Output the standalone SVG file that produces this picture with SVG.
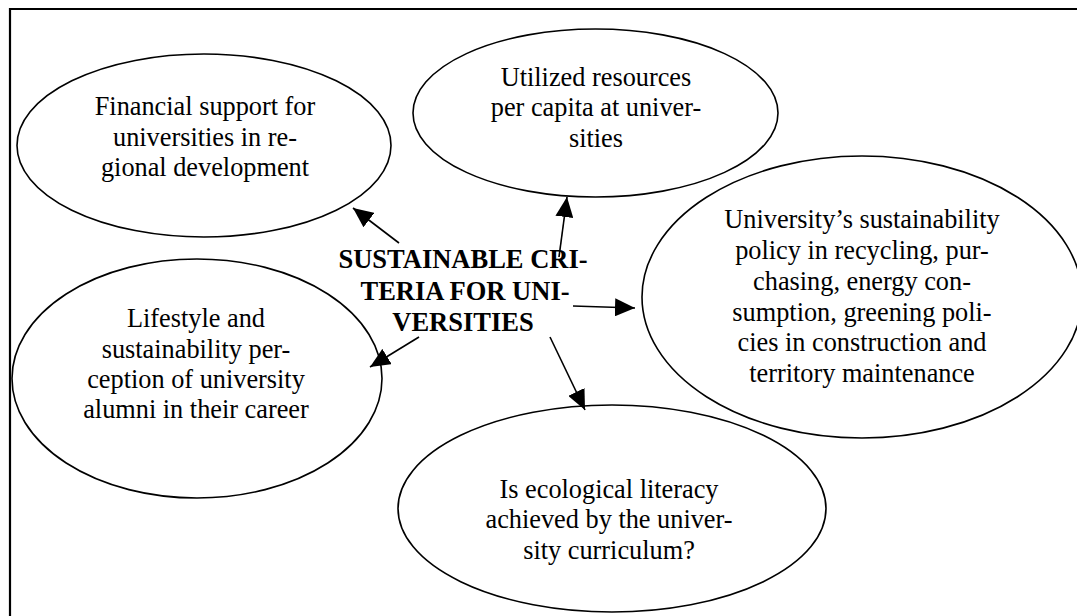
<svg xmlns="http://www.w3.org/2000/svg" width="1077" height="616" viewBox="0 0 1077 616">
<style>
.node ellipse{fill:#fff;stroke:#000;stroke-width:1.6}
.node text{font-family:"Liberation Serif","Times New Roman",serif;font-size:26.3px;fill:#000;text-anchor:middle}
.center text{font-family:"Liberation Serif","Times New Roman",serif;font-size:26.5px;font-weight:bold;fill:#000;text-anchor:middle}
.conn line{stroke:#000;stroke-width:1.6;marker-end:url(#ah)}
.frame{stroke:#000;stroke-width:2.2;fill:none}
</style>
<defs>
<marker id="ah" markerUnits="userSpaceOnUse" markerWidth="21" markerHeight="18" refX="20" refY="9" orient="auto">
<path d="M0,0 L20,9 L0,18 z" fill="#000"/>
</marker>
</defs>
<rect width="1077" height="616" fill="#fff"/>
<path class="frame" d="M10,616 L10,9 L1077,9"/>
<g id="n-financial" class="node">
<ellipse cx="204" cy="145.5" rx="187" ry="91.5"/>
<text x="205" y="115">Financial support for</text>
<text x="205" y="146">universities in re-</text>
<text x="205" y="176">gional development</text>
</g>
<g id="n-utilized" class="node">
<ellipse cx="595.5" cy="113" rx="182.5" ry="84"/>
<text x="596" y="86">Utilized resources</text>
<text x="596" y="116">per capita at univer-</text>
<text x="596" y="147">sities</text>
</g>
<g id="n-policy" class="node">
<ellipse cx="862" cy="297" rx="220" ry="141"/>
<text x="862" y="228">University’s sustainability</text>
<text x="862" y="259">policy in recycling, pur-</text>
<text x="862" y="290">chasing, energy con-</text>
<text x="862" y="321">sumption, greening poli-</text>
<text x="862" y="351">cies in construction and</text>
<text x="862" y="382">territory maintenance</text>
</g>
<g id="n-literacy" class="node">
<ellipse cx="612" cy="508.5" rx="214" ry="103.5"/>
<text x="609" y="498">Is ecological literacy</text>
<text x="609" y="528">achieved by the univer-</text>
<text x="609" y="559">sity curriculum?</text>
</g>
<g id="n-lifestyle" class="node">
<ellipse cx="197" cy="378.5" rx="185" ry="119.5"/>
<text x="196" y="327">Lifestyle and</text>
<text x="196" y="358">sustainability per-</text>
<text x="196" y="388">ception of university</text>
<text x="196" y="418">alumni in their career</text>
</g>
<g id="n-center" class="center">
<text x="463" y="268">SUSTAINABLE CRI-</text>
<text x="465" y="300">TERIA FOR UNI-</text>
<text x="463" y="331">VERSITIES</text>
</g>
<g id="connectors" class="conn">
<line x1="399" y1="243" x2="353" y2="208"/>
<line x1="559" y1="257" x2="567" y2="197"/>
<line x1="573" y1="306" x2="635" y2="308"/>
<line x1="419" y1="337" x2="370" y2="367"/>
<line x1="550" y1="337" x2="585" y2="410"/>
</g>
</svg>
